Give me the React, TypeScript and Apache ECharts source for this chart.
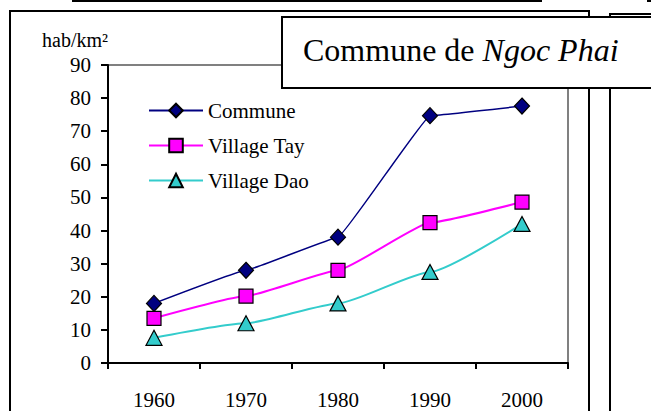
import React, { useEffect, useRef } from "react";
import * as echarts from "echarts";

const years = ["1960", "1970", "1980", "1990", "2000"];
const commune = [18, 28, 38, 74.7, 77.6];
const villageTay = [13.5, 20.2, 28, 42.4, 48.6];
const villageDao = [7.6, 12, 18, 27.5, 42];
const seriesNames = ["Commune", "Village Tay", "Village Dao"];
const yMin = 0;
const yMax = 90;
const yStep = 10;

const FONT = "'Liberation Serif', 'Times New Roman', serif";

export default function App() {
  const ref = useRef<HTMLDivElement>(null);
  useEffect(() => {
    if (!ref.current) return;
    const chart = echarts.init(ref.current, undefined, { renderer: "svg" });
    const mk = (name: string, data: number[], color: string, symbol: string, size: any, width: number, smooth: number) => ({
      name,
      type: "line",
      data,
      smooth,
      smoothMonotone: "x",
      symbol,
      symbolSize: size,
      showSymbol: true,
      lineStyle: { color, width },
      itemStyle: { color, borderColor: "#000", borderWidth: 1.2 },
      z: 3,
    });
    chart.setOption({
      animation: false,
      backgroundColor: "#fff",
      textStyle: { fontFamily: FONT },
      grid: {
        left: 108,
        top: 65,
        right: 83,
        bottom: 48,
        show: true,
        borderColor: "#808080",
        borderWidth: 2,
        backgroundColor: "#fff",
      },
      legend: {
        orient: "vertical",
        left: 148,
        top: 100,
        padding: 0,
        itemWidth: 54,
        itemHeight: 17,
        itemGap: 14,
        data: seriesNames,
        textStyle: { fontFamily: FONT, fontSize: 21, color: "#000" },
      },
      xAxis: {
        type: "category",
        data: years,
        boundaryGap: true,
        axisLine: { lineStyle: { color: "#000", width: 2 } },
        axisTick: { show: true, length: 6, lineStyle: { color: "#000", width: 2 } },
        axisLabel: { fontFamily: FONT, fontSize: 21, color: "#000", margin: 26 },
        splitLine: { show: false },
      },
      yAxis: {
        type: "value",
        min: yMin,
        max: yMax,
        interval: yStep,
        axisLine: { show: true, lineStyle: { color: "#000", width: 2 } },
        axisTick: { show: true, length: 7, lineStyle: { color: "#000", width: 2 } },
        axisLabel: { fontFamily: FONT, fontSize: 21, color: "#000", margin: 17 },
        splitLine: { show: false },
      },
      series: [
        mk(seriesNames[0], commune, "#000080", "diamond", [15, 16], 1.5, 0.06),
        mk(seriesNames[1], villageTay, "#FF00FF", "rect", [14, 14], 2, 0.12),
        mk(seriesNames[2], villageDao, "#33CCCC", "triangle", [16, 15], 2, 0.18),
      ],
      graphic: [
        { type: "rect", shape: { x: 72, y: 0, width: 470, height: 2 }, style: { fill: "#000" }, z: 50 },
        { type: "rect", shape: { x: 647, y: 0, width: 10, height: 2 }, style: { fill: "#000" }, z: 50 },
        { type: "rect", shape: { x: 10, y: 11, width: 579, height: 430 }, style: { fill: "none", stroke: "#000", lineWidth: 2 }, z: 50 },
        { type: "rect", shape: { x: 610, y: 14, width: 80, height: 430 }, style: { fill: "none", stroke: "#000", lineWidth: 2 }, z: 50 },
        { type: "rect", shape: { x: 282, y: 17, width: 400, height: 71 }, style: { fill: "#fff", stroke: "#000", lineWidth: 2 }, z: 100 },
        {
          type: "text",
          x: 303,
          y: 50,
          z: 101,
          style: {
            text: "{n|Commune de }{i|Ngoc Phai}",
            verticalAlign: "middle",
            fill: "#000",
            rich: {
              n: { fontFamily: FONT, fontSize: 32, fill: "#000" },
              i: { fontFamily: FONT, fontSize: 32, fontStyle: "italic", fill: "#000" },
            },
          },
        },
        {
          type: "text",
          x: 42,
          y: 40,
          z: 101,
          style: { text: "hab/km²", fontFamily: FONT, fontSize: 20, fill: "#000", verticalAlign: "middle" },
        },
      ],
    });
    return () => chart.dispose();
  }, []);
  return <div ref={ref} style={{ position: "fixed", left: 0, top: 0, width: 651, height: 411 }} />;
}
